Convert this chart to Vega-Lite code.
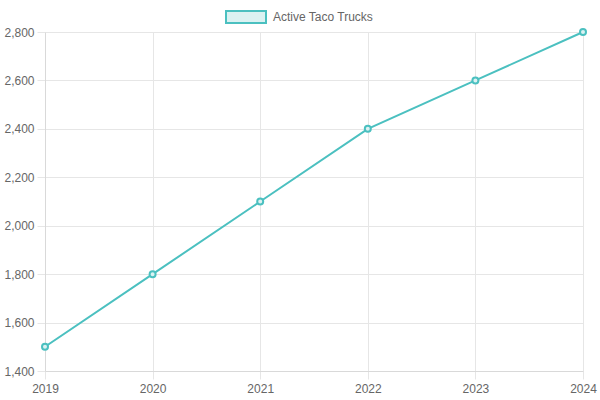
{
  "$schema": "https://vega.github.io/schema/vega-lite/v6.json",
  "width": 538,
  "height": 339,
  "autosize": {"type": "none"},
  "padding": {"left": 45, "top": 32, "right": 17, "bottom": 29},
  "data": {
    "values": [
      {"year": "2019", "trucks": 1500, "series": "Active Taco Trucks"},
      {"year": "2020", "trucks": 1800, "series": "Active Taco Trucks"},
      {"year": "2021", "trucks": 2100, "series": "Active Taco Trucks"},
      {"year": "2022", "trucks": 2400, "series": "Active Taco Trucks"},
      {"year": "2023", "trucks": 2600, "series": "Active Taco Trucks"},
      {"year": "2024", "trucks": 2800, "series": "Active Taco Trucks"}
    ]
  },
  "encoding": {
    "x": {
      "field": "year", "type": "ordinal",
      "scale": {"type": "point", "padding": 0},
      "axis": {"title": null, "labelAngle": 0, "grid": true, "tickSize": 8, "labelPadding": 4}
    },
    "y": {
      "field": "trucks", "type": "quantitative",
      "scale": {"domain": [1400, 2800], "nice": false, "zero": false},
      "axis": {"title": null, "values": [1400, 1600, 1800, 2000, 2200, 2400, 2600, 2800], "format": ",.0f", "tickSize": 8, "labelPadding": 3}
    }
  },
  "layer": [
    {
      "mark": {"type": "line", "strokeWidth": 2},
      "encoding": {
        "color": {
          "field": "series", "type": "nominal",
          "scale": {"range": ["#4bc0c0"]},
          "legend": {
            "title": null,
            "orient": "none",
            "legendX": 180,
            "legendY": -36,
            "symbolType": "M-1,-0.3H1V0.3H-1Z",
            "symbolSize": 1600,
            "symbolStrokeWidth": 2,
            "labelFontSize": 12,
            "labelColor": "#666666",
            "labelOffset": 6,
            "encode": {
              "symbols": {"update": {"fill": {"value": "rgba(75,192,192,0.2)"}, "stroke": {"value": "#4bc0c0"}, "strokeWidth": {"value": 2}}}
            }
          }
        }
      }
    },
    {
      "mark": {"type": "point", "shape": "circle", "filled": true, "fill": "#dbf2f2", "stroke": "#4bc0c0", "strokeWidth": 2, "size": 36, "opacity": 1}
    }
  ],
  "config": {
    "font": "Liberation Sans",
    "view": {"stroke": null},
    "axis": {
      "gridColor": "#e6e6e6",
      "tickColor": "#e6e6e6",
      "domainColor": "#d9d9d9",
      "labelColor": "#666666",
      "labelFontSize": 12,
      "labelFont": "Liberation Sans"
    }
  }
}
